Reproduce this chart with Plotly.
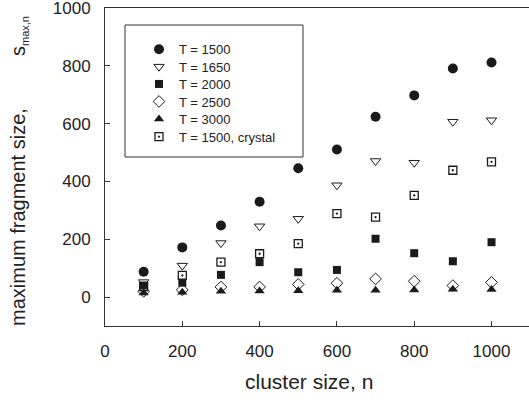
import plotly.graph_objects as go

n = [100, 200, 300, 400, 500, 600, 700, 800, 900, 1000]
t1500 = [88, 172, 248, 330, 446, 511, 624, 698, 791, 812]
t1650 = [52, 109, 187, 245, 271, 387, 471, 465, 607, 612]
t2000 = [40, 50, 77, 121, 86, 94, 202, 152, 124, 190]
t2500 = [20, 25, 35, 35, 44, 48, 63, 55, 40, 51]
t3000 = [14, 17, 20, 21, 22, 24, 24, 25, 27, 26]
crystal = [36, 75, 121, 150, 185, 289, 277, 352, 439, 468]

names = ["T = 1500", "T = 1650", "T = 2000", "T = 2500", "T = 3000", "T = 1500, crystal"]
xticks = [0, 200, 400, 600, 800, 1000]
yticks = [0, 200, 400, 600, 800, 1000]

INK = "#1a1a1a"
FONT = "Liberation Sans, Arial"
series = [
    (t1500, "circle", 10, 0),
    (t1650, "triangle-down-open", 9, 1),
    (t2000, "square", 8, 0),
    (t2500, "diamond-open", 9, 1),
    (t3000, "triangle-up", 9, 0),
    (crystal, "square-open-dot", 8, 1.3),
]

# legend row centres (px from top) and left x of each single-item legend
row_px = [49.3, 66.7, 84.0, 101.5, 119.0, 136.7]
PLOT_T, PLOT_H, PLOT_L, PLOT_W = 8, 318, 105, 424

fig = go.Figure()
legends = {}
for i, ((vals, sym, sz, lw), name) in enumerate(zip(series, names)):
    lg = "legend" if i == 0 else f"legend{i + 1}"
    fig.add_trace(go.Scatter(
        x=n, y=vals, mode="markers", name=name, legend=lg,
        marker=dict(symbol=sym, size=sz, color=INK,
                    line=dict(color=INK, width=lw)),
    ))
    legends[lg] = dict(
        x=(139 - PLOT_L) / PLOT_W, y=1 - (row_px[i] - PLOT_T) / PLOT_H,
        xanchor="left", yanchor="middle",
        bgcolor="rgba(0,0,0,0)", borderwidth=0,
        font=dict(family=FONT, size=13, color="#222"),
    )

axis_common = dict(
    showline=True, linecolor="#333", linewidth=1, mirror=True,
    ticks="inside", ticklen=5, tickwidth=1, tickcolor="#333",
    showgrid=False, zeroline=False, ticklabeloverflow="allow",
    tickfont=dict(family=FONT, size=17, color="#222"),
)

fig.update_layout(
    width=529, height=407,
    margin=dict(l=PLOT_L, r=0, t=PLOT_T, b=81),
    paper_bgcolor="white", plot_bgcolor="white",
    xaxis=dict(range=[0, 1097], tickvals=xticks, ticklabelstandoff=10, **axis_common),
    yaxis=dict(range=[-100, 1000.5], tickvals=yticks, ticklabelstandoff=10, **axis_common),
    showlegend=True,
    shapes=[dict(type="rect", xref="paper", yref="paper",
                 x0=(125 - PLOT_L) / PLOT_W, x1=(303 - PLOT_L) / PLOT_W,
                 y0=1 - (157 - PLOT_T) / PLOT_H, y1=1 - (25 - PLOT_T) / PLOT_H,
                 line=dict(color="#333", width=1))],
    annotations=[
        dict(text="cluster size, n", xref="paper", yref="paper",
             x=(309 - PLOT_L) / PLOT_W, y=-(381 - 326) / PLOT_H, xanchor="center", yanchor="middle",
             showarrow=False, font=dict(family=FONT, size=21, color="#222")),
        dict(text="maximum fragment size,", xref="paper", yref="paper",
             x=-(PLOT_L - 18) / PLOT_W, y=1 - (217 - PLOT_T) / PLOT_H, xanchor="center", yanchor="middle",
             textangle=-90, showarrow=False,
             font=dict(family=FONT, size=20, color="#222")),
        dict(text="s<sub><span style='font-size:11px'>max,n</span></sub>", xref="paper", yref="paper",
             x=-(PLOT_L - 19) / PLOT_W, y=1 - (36 - PLOT_T) / PLOT_H, xanchor="center", yanchor="middle",
             textangle=-90, showarrow=False,
             font=dict(family=FONT, size=20, color="#222")),
    ],
    **legends,
)

fig.write_html("out.html")
